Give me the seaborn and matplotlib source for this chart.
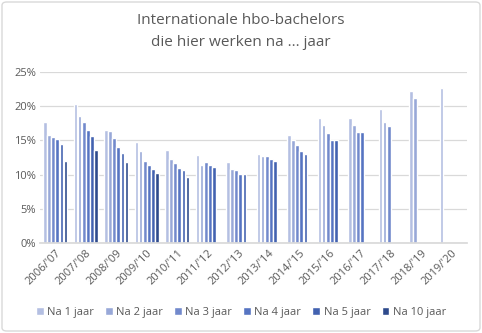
import numpy as np
import pandas as pd
import matplotlib
matplotlib.use("Agg")
import matplotlib.pyplot as plt
import seaborn as sns
from matplotlib.patches import FancyBboxPatch

years = ["2006/'07", "2007/'08", "2008/'09", "2009/'10", "2010/'11", "2011/'12", "2012/'13",
         "2013/'14", "2014/'15", "2015/'16", "2016/'17", "2017/'18", "2018/'19", "2019/'20"]
series = ["Na 1 jaar", "Na 2 jaar", "Na 3 jaar", "Na 4 jaar", "Na 5 jaar", "Na 10 jaar"]
nan = np.nan
na1 = [17.7, 20.3, 16.5, 14.8, 13.6, 12.9, 11.9, 13.0, 15.8, 18.2, 18.2, 19.6, 22.2, 22.7]
na2 = [15.8, 18.6, 16.3, 13.4, 12.3, 11.4, 10.8, 12.7, 15.1, 17.3, 17.3, 17.7, 21.2, nan]
na3 = [15.5, 17.7, 15.3, 12.0, 11.7, 11.9, 10.7, 12.7, 14.4, 16.1, 16.2, 17.1, nan, nan]
na4 = [15.2, 16.5, 14.1, 11.4, 11.0, 11.4, 10.1, 12.3, 13.5, 15.0, 16.2, nan, nan, nan]
na5 = [14.5, 15.7, 13.2, 10.8, 10.7, 11.1, 10.1, 12.0, 13.0, 15.0, nan, nan, nan, nan]
na10 = [12.0, 13.6, 11.9, 10.2, 9.7, nan, nan, nan, nan, nan, nan, nan, nan, nan]
colors = ["#B4BFE2", "#98A8D8", "#7289CC", "#5674C2", "#4262B0", "#2E4A8C"]

rows = []
for s, vals in zip(series, [na1, na2, na3, na4, na5, na10]):
    for y, v in zip(years, vals):
        rows.append({"jaar": y, "reeks": s, "waarde": v})
df = pd.DataFrame(rows)

sns.set_theme(style="white")
plt.rcParams["font.family"] = ["Open Sans", "DejaVu Sans"]
txt = "#595959"

fig = plt.figure(figsize=(4.82, 3.33), dpi=100)
ax = fig.add_axes([40/482, 1-243.3/333, 427/482, (243.3-71.8)/333])
sns.barplot(data=df, x="jaar", y="waarde", hue="reeks", order=years, hue_order=series,
            palette=colors, width=0.8, gap=0.12, ax=ax, legend=True, errorbar=None,
            saturation=1)
ax.set_ylim(0, 25)
ax.set_xlim(-0.5, len(years)-0.5)
ax.set_yticks([0, 5, 10, 15, 20, 25])
ax.set_yticklabels([f"{v}%" for v in [0, 5, 10, 15, 20, 25]], fontsize=8, color=txt)
ax.set_xticks(range(len(years)))
ax.set_xticklabels(years, rotation=45, ha="right", rotation_mode="anchor", fontsize=8, color=txt)
ax.tick_params(axis="both", length=0, pad=3)
ax.set_xlabel("")
ax.set_ylabel("")
ax.yaxis.grid(True, color="#D9D9D9", linewidth=0.9)
ax.set_axisbelow(True)
for sp in ["top", "right", "left"]:
    ax.spines[sp].set_visible(False)
ax.spines["bottom"].set_color("#D9D9D9")

handles, labels = ax.get_legend_handles_labels()
ax.legend_.remove()
fig.legend(handles, labels, loc="center", bbox_to_anchor=(0.5, 1-312/333), ncol=6,
           frameon=False, fontsize=8, labelcolor=txt, handlelength=0.7, handleheight=0.7,
           handletextpad=0.3, columnspacing=1.0)

fig.text(0.5, 1-20/333, "Internationale hbo-bachelors", ha="center", va="center",
         fontsize=11, color=txt)
fig.text(0.5, 1-43/333, "die hier werken na ... jaar", ha="center", va="center",
         fontsize=11, color=txt)

border = FancyBboxPatch((2/482, 2/333), 1-4/482, 1-4/333, boxstyle="round,pad=0,rounding_size=0.01",
                        transform=fig.transFigure, fill=False, edgecolor="#D9D9D9", linewidth=1)
fig.patches.append(border)

fig.savefig("out.png", dpi=100)
